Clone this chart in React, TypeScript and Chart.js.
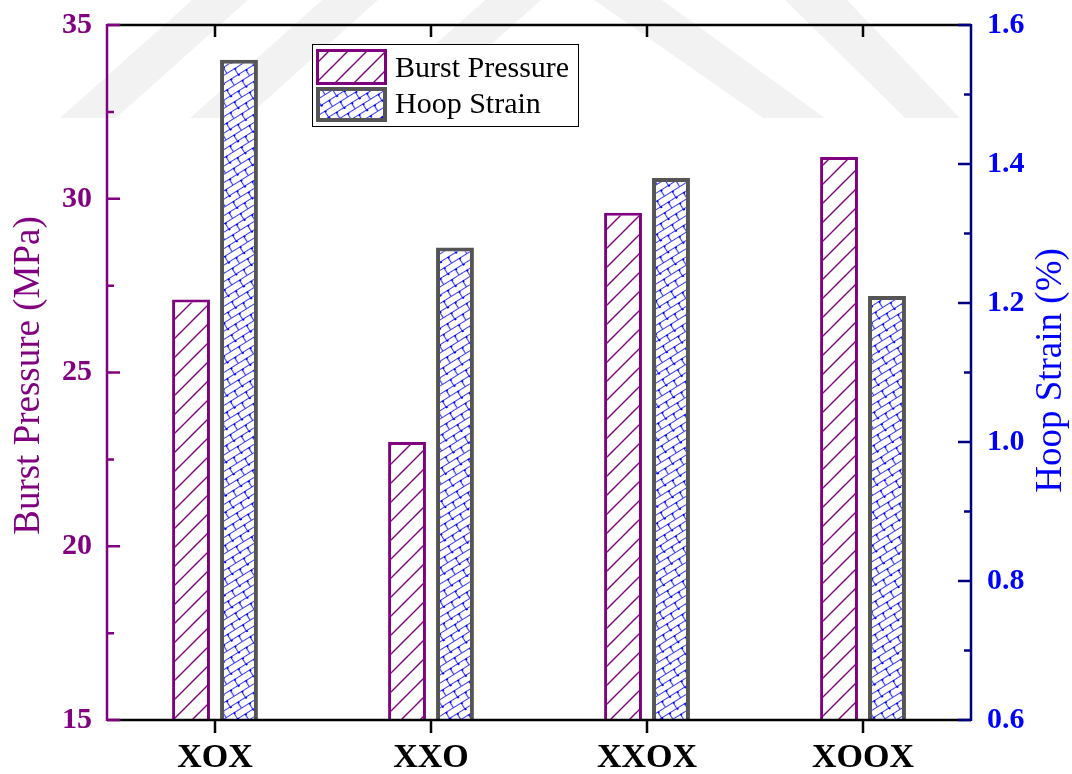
import React, { useEffect, useRef } from "react";
import { Chart, registerables } from "chart.js";

Chart.register(...registerables);

const categories = ["XOX", "XXO", "XXOX", "XOOX"];
const burstPressure = [27.1, 23.0, 29.6, 31.2];
const hoopStrain = [1.55, 1.28, 1.38, 1.21];
const leftRange = [15, 35];
const rightRange = [0.6, 1.6];
const leftTitle = "Burst Pressure (MPa)";
const rightTitle = "Hoop Strain (%)";
const seriesNames = ["Burst Pressure", "Hoop Strain"];

const SERIF = '"Liberation Serif", "Times New Roman", serif';
const PURPLE = "#800080";
const BLUE = "#0000ff";
const NAVY = "#000080";
const GRAY = "#555555";

function hatchPattern(ctx: CanvasRenderingContext2D) {
  const s = 19;
  const c = document.createElement("canvas");
  c.width = s;
  c.height = s;
  const g = c.getContext("2d")!;
  g.fillStyle = "#ffffff";
  g.fillRect(0, 0, s, s);
  g.strokeStyle = PURPLE;
  g.lineWidth = 1.4;
  g.beginPath();
  g.moveTo(-3, s + 3);
  g.lineTo(s + 3, -3);
  g.moveTo(-3, 3);
  g.lineTo(3, -3);
  g.moveTo(s - 3, s + 3);
  g.lineTo(s + 3, s - 3);
  g.stroke();
  return ctx.createPattern(c, "repeat")!;
}

function brickPattern(ctx: CanvasRenderingContext2D) {
  const w = 18;
  const h = 14;
  const c = document.createElement("canvas");
  c.width = w;
  c.height = h;
  const g = c.getContext("2d")!;
  g.fillStyle = "#ffffff";
  g.fillRect(0, 0, w, h);
  g.strokeStyle = "#3a3af0";
  g.lineWidth = 1.2;
  g.beginPath();
  g.moveTo(0, 0.5);
  g.lineTo(w, 0.5);
  g.moveTo(0, 7.5);
  g.lineTo(w, 7.5);
  g.moveTo(0.5, 0);
  g.lineTo(0.5, 7.5);
  g.moveTo(9.5, 7.5);
  g.lineTo(9.5, 14);
  g.stroke();
  g.fillStyle = "#0000ff";
  g.fillRect(0, 0, 2, 2);
  g.fillRect(0, 7, 2, 2);
  g.fillRect(9, 7, 2, 2);
  const p = ctx.createPattern(c, "repeat")!;
  try {
    p.setTransform(new DOMMatrix().rotateSelf(-32));
  } catch (e) {}
  return p;
}

export default function App() {
  const ref = useRef<HTMLCanvasElement | null>(null);

  useEffect(() => {
    const canvas = ref.current!;
    const ctx = canvas.getContext("2d")!;
    const hatch = hatchPattern(ctx);
    const brick = brickPattern(ctx);

    const watermark = {
      id: "watermark",
      beforeDraw(chart: any) {
        const c = chart.ctx as CanvasRenderingContext2D;
        c.save();
        c.fillStyle = "rgba(0,0,0,0.05)";
        const polys = [
          [[60, 118], [116, 118], [248, 0], [192, 0]],
          [[190, 118], [246, 118], [378, 0], [322, 0]],
          [[420, 58], [476, 58], [541, 0], [485, 0]],
          [[594, 0], [662, 0], [825, 118], [763, 118]],
          [[785, 0], [847, 0], [960, 118], [905, 118]],
        ];
        for (const p of polys) {
          c.beginPath();
          c.moveTo(p[0][0], p[0][1]);
          for (let i = 1; i < p.length; i++) c.lineTo(p[i][0], p[i][1]);
          c.closePath();
          c.fill();
        }
        c.restore();
      },
    };

    const decor = {
      id: "decor",
      afterDatasetsDraw(chart: any) {
        const c = chart.ctx as CanvasRenderingContext2D;
        const a = chart.chartArea;
        const y = chart.scales.y;
        const y1 = chart.scales.y1;
        const x = chart.scales.x;
        c.save();
        c.lineCap = "butt";
        c.lineWidth = 2.5;
        c.strokeStyle = "#000";
        c.beginPath();
        c.moveTo(a.left, a.top);
        c.lineTo(a.right, a.top);
        c.moveTo(a.left, a.bottom);
        c.lineTo(a.right, a.bottom);
        c.stroke();
        c.beginPath();
        for (let i = 0; i < categories.length; i++) {
          const px = x.getPixelForValue(i);
          c.moveTo(px, a.bottom);
          c.lineTo(px, a.bottom + 13);
          c.moveTo(px, a.top);
          c.lineTo(px, a.top + 12);
        }
        c.stroke();
        c.strokeStyle = PURPLE;
        c.beginPath();
        c.moveTo(a.left, a.top - 1);
        c.lineTo(a.left, a.bottom + 1);
        for (let v = leftRange[0]; v <= leftRange[1] + 1e-9; v += 2.5) {
          const py = y.getPixelForValue(v);
          const major = Math.abs(v / 5 - Math.round(v / 5)) < 1e-6;
          c.moveTo(a.left, py);
          c.lineTo(a.left + (major ? 13 : 7), py);
        }
        c.stroke();
        c.strokeStyle = NAVY;
        c.beginPath();
        c.moveTo(a.right, a.top - 1);
        c.lineTo(a.right, a.bottom + 1);
        for (let k = 0; k <= 10; k++) {
          const v = rightRange[0] + k * 0.1;
          const py = y1.getPixelForValue(v);
          const major = k % 2 === 0;
          c.moveTo(a.right, py);
          c.lineTo(a.right - (major ? 13 : 7), py);
        }
        c.stroke();

        c.textAlign = "center";
        c.textBaseline = "middle";
        c.font = `37px ${SERIF}`;
        const cy = (a.top + a.bottom) / 2;
        c.save();
        c.translate(29, cy + 3);
        c.rotate(-Math.PI / 2);
        c.fillStyle = PURPLE;
        c.fillText(leftTitle, 0, 0);
        c.restore();
        c.save();
        c.translate(1051, cy - 2);
        c.rotate(-Math.PI / 2);
        c.fillStyle = BLUE;
        c.fillText(rightTitle, 0, 0);
        c.restore();

        c.fillStyle = "#fff";
        c.fillRect(312, 44, 266, 82);
        c.lineWidth = 1;
        c.strokeStyle = "#000";
        c.strokeRect(312.5, 44.5, 266, 82);
        c.fillStyle = hatch;
        c.fillRect(316, 49, 70, 35);
        c.lineWidth = 3;
        c.strokeStyle = PURPLE;
        c.strokeRect(317.5, 50.5, 68, 33);
        c.fillStyle = brick;
        c.fillRect(316, 87, 71, 35);
        c.lineWidth = 4;
        c.strokeStyle = GRAY;
        c.strokeRect(318, 89, 67, 31);
        c.fillStyle = "#000";
        c.textAlign = "left";
        c.textBaseline = "alphabetic";
        c.font = `30px ${SERIF}`;
        c.fillText(seriesNames[0], 395, 77);
        c.fillText(seriesNames[1], 395, 113);
        c.restore();
      },
    };

    const chart = new Chart(ctx, {
      type: "bar",
      data: {
        labels: categories,
        datasets: [
          {
            label: seriesNames[0],
            data: burstPressure,
            yAxisID: "y",
            backgroundColor: hatch as any,
            borderColor: PURPLE,
            borderWidth: 3,
            borderSkipped: false,
            categoryPercentage: 0.444,
            barPercentage: 0.79,
          },
          {
            label: seriesNames[1],
            data: hoopStrain,
            yAxisID: "y1",
            backgroundColor: brick as any,
            borderColor: GRAY,
            borderWidth: 4,
            borderSkipped: false,
            categoryPercentage: 0.444,
            barPercentage: 0.79,
          },
        ],
      },
      options: {
        responsive: false,
        animation: false,
        layout: { padding: { top: 25, left: 0, right: 0, bottom: 0 } },
        plugins: {
          legend: { display: false },
          tooltip: { enabled: false },
          title: { display: false },
        },
        scales: {
          x: {
            type: "category",
            offset: true,
            grid: { display: false, drawTicks: false },
            border: { display: false },
            ticks: {
              color: "#000",
              padding: 18,
              font: { family: SERIF, size: 34, weight: "bold" },
            },
            afterFit: (s: any) => {
              s.height = 54;
              s.paddingLeft = 0;
              s.paddingRight = 0;
            },
          },
          y: {
            position: "left",
            min: leftRange[0],
            max: leftRange[1],
            grid: { display: false, drawTicks: false },
            border: { display: false },
            ticks: {
              stepSize: 5,
              color: PURPLE,
              padding: 15,
              font: { family: SERIF, size: 30, weight: "bold" },
            },
            afterFit: (s: any) => {
              s.width = 107;
              s.paddingTop = 0;
              s.paddingBottom = 0;
            },
          },
          y1: {
            position: "right",
            min: rightRange[0],
            max: rightRange[1],
            grid: { display: false, drawTicks: false },
            border: { display: false },
            ticks: {
              stepSize: 0.2,
              color: BLUE,
              padding: 16,
              font: { family: SERIF, size: 30, weight: "bold" },
              callback: (v: any) => Number(v).toFixed(1),
            },
            afterFit: (s: any) => {
              s.width = 101;
              s.paddingTop = 0;
              s.paddingBottom = 0;
            },
          },
        },
      },
      plugins: [watermark, decor],
    });
    return () => chart.destroy();
  }, []);

  return (
    <div
      style={{
        position: "fixed",
        left: 0,
        top: 0,
        width: 1072,
        height: 774,
        background: "#fff",
      }}
    >
      <canvas ref={ref} width={1072} height={774} style={{ display: "block" }} />
    </div>
  );
}
